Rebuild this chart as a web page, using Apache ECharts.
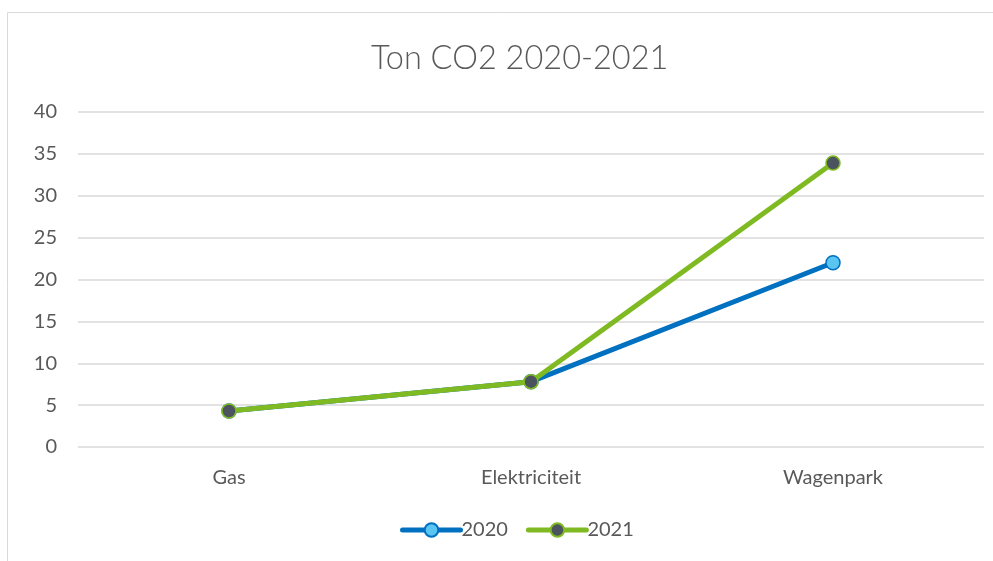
<!DOCTYPE html>
<html><head><meta charset="utf-8">
<script src="https://cdn.jsdelivr.net/npm/echarts@6/dist/echarts.min.js"></script>
<style>html,body{margin:0;padding:0;background:#fff}#c{width:993px;height:561px}</style>
</head><body><div id="c"></div>
<script>
const categories = ['Gas', 'Elektriciteit', 'Wagenpark'];
const values2020 = [4.3, 7.8, 22.0];
const values2021 = [4.3, 7.8, 33.9];
const yTicks = [0, 5, 10, 15, 20, 25, 30, 35, 40];

const font = 'Lato, "Open Sans", sans-serif';
const chart = echarts.init(document.getElementById('c'));
chart.setOption({
  animation: false,
  graphic: [{
    type: 'rect', silent: true,
    shape: { x: 7.5, y: 12.5, width: 1100, height: 700 },
    style: { fill: 'none', stroke: '#d9d9d9', lineWidth: 1 }
  }],
  title: {
    text: 'Ton CO2 2020-2021', left: 366, top: 37,
    textStyle: { fontFamily: font, fontWeight: 300, fontSize: 32.5, color: '#595959' }
  },
  grid: { left: 78, right: 9, top: 112, bottom: 114, containLabel: false },
  legend: {
    bottom: 16, left: 395, itemWidth: 58, itemHeight: 17, itemGap: 18,
    lineStyle: { width: 5, cap: 'round' },
    textStyle: { fontFamily: font, fontSize: 20, color: '#595959', padding: [0, 0, 0, -4] },
    data: ['2020', '2021']
  },
  xAxis: {
    type: 'category', data: categories, boundaryGap: true,
    axisLine: { show: false }, axisTick: { show: false },
    axisLabel: { fontFamily: font, fontSize: 20, color: '#595959', margin: 21 }
  },
  yAxis: {
    type: 'value', min: 0, max: 40, interval: 5,
    axisLine: { show: false }, axisTick: { show: false },
    axisLabel: { fontFamily: font, fontSize: 20, color: '#595959', margin: 21, align: 'right',
      formatter: v => yTicks.includes(v) ? String(v) : '' },
    splitLine: { lineStyle: { color: '#d9d9d9', width: 1.5 } }
  },
  series: [
    { name: '2020', type: 'line', data: values2020, symbol: 'circle', symbolSize: 14,
      lineStyle: { color: '#0070c0', width: 5, cap: 'round' },
      itemStyle: { color: '#5bc5f2', borderColor: '#0070c0', borderWidth: 1.5 }, z: 2 },
    { name: '2021', type: 'line', data: values2021, symbol: 'circle', symbolSize: 14,
      lineStyle: { color: '#7fba23', width: 5, cap: 'round' },
      itemStyle: { color: '#4b535e', borderColor: '#7fba23', borderWidth: 1.5 }, z: 3 }
  ]
});
</script></body></html>
